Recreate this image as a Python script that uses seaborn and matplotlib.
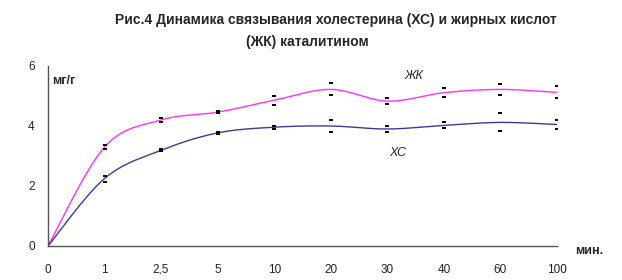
import numpy as np
import pandas as pd
import matplotlib
matplotlib.use('Agg')
import matplotlib.pyplot as plt
import matplotlib.transforms as mtrans
import seaborn as sns

# ── данные ─────────────────────────────────────────────
minutes = ['0', '1', '2,5', '5', '10', '20', '30', '40', '60', '100']
zhk     = [0, 3.30, 4.20, 4.46, 4.86, 5.22, 4.83, 5.11, 5.22, 5.12]   # ЖК
xc      = [0, 2.25, 3.19, 3.77, 3.96, 4.00, 3.90, 4.02, 4.12, 4.05]   # ХС
zhk_err = [0, 0.08, 0.07, 0.03, 0.15, 0.20, 0.10, 0.15, 0.19, 0.20]
xc_err  = [0, 0.10, 0.03, 0.02, 0.05, 0.19, 0.09, 0.10, 0.30, 0.15]

PINK = '#ff33ff'
BLUE = '#3b3b9c'

sns.set_style('white')
plt.rcParams['font.family'] = ['Liberation Sans', 'DejaVu Sans']


def smooth(y, n=30):
    # сглаженная линия как в Excel (кардинальный сплайн)
    y = np.asarray(y, float)
    x = np.arange(len(y), dtype=float)
    px = np.concatenate([[x[0]], x, [x[-1]]])
    py = np.concatenate([[y[0]], y, [y[-1]]])
    xs, ys = [], []
    t = np.linspace(0, 1, n, endpoint=False)
    for i in range(1, len(px) - 2):
        p0, p1, p2, p3 = py[i-1], py[i], py[i+1], py[i+2]
        q0, q1, q2, q3 = px[i-1], px[i], px[i+1], px[i+2]
        h1 = 2*t**3 - 3*t**2 + 1
        h2 = -2*t**3 + 3*t**2
        h3 = t**3 - 2*t**2 + t
        h4 = t**3 - t**2
        m1, m2 = 0.5*(p2 - p0), 0.5*(p3 - p1)
        k1, k2 = 0.5*(q2 - q0), 0.5*(q3 - q1)
        ys.append(h1*p1 + h2*p2 + h3*m1 + h4*m2)
        xs.append(h1*q1 + h2*q2 + h3*k1 + h4*k2)
    xs.append([x[-1]]); ys.append([y[-1]])
    return np.concatenate(xs), np.concatenate(ys)


rows = []
for name, vals in [('ЖК', zhk), ('ХС', xc)]:
    sx, sy = smooth(vals)
    rows.append(pd.DataFrame({'pos': sx, 'val': sy, 'series': name}))
curve = pd.concat(rows, ignore_index=True)

pos = np.arange(len(minutes))
bars = pd.DataFrame({
    'pos': np.concatenate([pos, pos, pos, pos]),
    'val': np.concatenate([np.add(zhk, zhk_err), np.subtract(zhk, zhk_err),
                           np.add(xc, xc_err), np.subtract(xc, xc_err)]),
})
bars = bars[bars['pos'] > 0]

fig = plt.figure(figsize=(6.22, 2.80), dpi=100)
ax = fig.add_axes([48/622, 34/280, (557-48)/622, 180/280])

sns.lineplot(data=curve, x='pos', y='val', hue='series', sort=False,
             palette={'ЖК': PINK, 'ХС': BLUE}, linewidth=1.0,
             legend=False, ax=ax)
ax.scatter(bars['pos'], bars['val'], marker='_', s=10, color='black',
           linewidths=1.4, zorder=5)

ax.set_xlim(0, len(minutes) - 1)
ax.set_ylim(0, 6)
ax.set_xticks(pos)
ax.set_xticklabels([])
ax.set_yticks([0, 2, 4, 6])
ax.set_xlabel('')
ax.set_ylabel('')
for s in ['top', 'right']:
    ax.spines[s].set_visible(False)
for s in ['left', 'bottom']:
    ax.spines[s].set_color('#555555')
    ax.spines[s].set_linewidth(1.0)
ax.tick_params(direction='inout', length=7, width=1, color='#555555',
               labelsize=8.5, labelcolor='#222222', pad=6)

# подписи оси X по базовой линии
xlab_tr = mtrans.blended_transform_factory(ax.transData, fig.transFigure)
for p, m in zip(pos, minutes):
    ax.text(p, 1 - 273/280, m, transform=xlab_tr, fontsize=8.5,
            color='#222222', ha='center', va='baseline')

ax.text(52/622, 1 - 81/280, 'мг/г', transform=fig.transFigure,
        fontsize=9, fontweight='bold', va='center', ha='left')
ax.text(575/622, 1 - 251/280, 'мин.', transform=fig.transFigure,
        fontsize=9, fontweight='bold', va='center', ha='left')
ax.text(414/622, 1 - 76/280, 'ЖК', transform=fig.transFigure,
        fontsize=9, fontstyle='italic', va='center', ha='center')
ax.text(398/622, 1 - 153/280, 'ХС', transform=fig.transFigure,
        fontsize=9, fontstyle='italic', va='center', ha='center')

fig.text(336/622, 1 - 20/280,
         'Рис.4 Динамика связывания холестерина (ХС) и жирных кислот',
         fontsize=10, fontweight='bold', ha='center', va='center')
fig.text(307/622, 1 - 42/280, '(ЖК) каталитином',
         fontsize=10, fontweight='bold', ha='center', va='center')

fig.savefig('out.png', dpi=100)
